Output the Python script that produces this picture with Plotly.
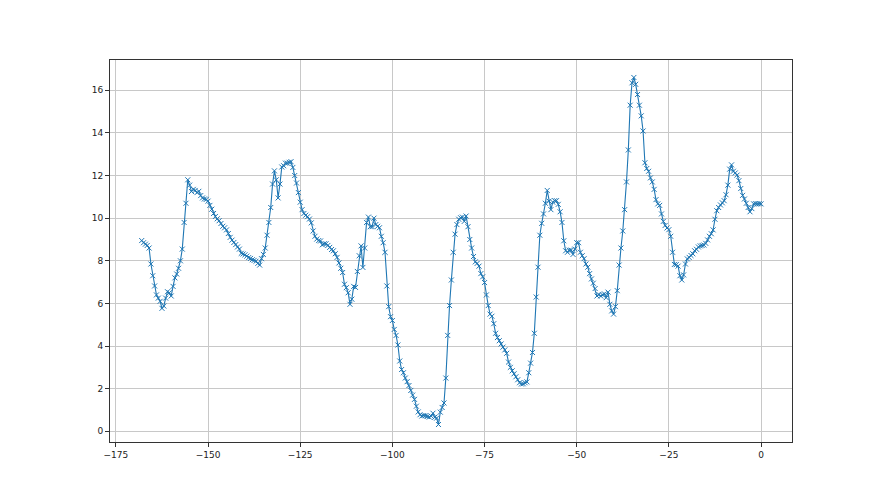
import numpy as np
import plotly.graph_objects as go

# profile values, one every 0.5 units from -168 to 0
x_start = -168.0
x_end = 0.0
y_values = [
    8.95, 8.85, 8.78, 8.72, 8.6, 7.85, 7.3, 6.82, 6.4, 6.25,        # -168.0
    6.1, 5.77, 5.88, 6.25, 6.55, 6.5, 6.35, 6.8, 7.2, 7.38,         # -163.0
    7.65, 8.0, 8.55, 9.8, 10.7, 11.8, 11.55, 11.25, 11.35, 11.3,    # -158.0
    11.2, 11.26, 11.06, 10.95, 10.9, 10.88, 10.8, 10.6, 10.42, 10.22,  # -153.0
    10.08, 9.97, 9.88, 9.75, 9.62, 9.55, 9.45, 9.28, 9.1, 8.97,     # -148.0
    8.86, 8.76, 8.65, 8.55, 8.35, 8.32, 8.28, 8.22, 8.15, 8.11,     # -143.0
    8.05, 8.02, 7.98, 7.88, 7.8, 8.1, 8.3, 8.6, 9.2, 9.8,           # -138.0
    10.5, 11.6, 12.22, 11.8, 10.95, 11.6, 12.4, 12.46, 12.58, 12.58,  # -133.0
    12.62, 12.65, 12.38, 12.0, 11.65, 11.2, 10.75, 10.4, 10.22, 10.14,  # -128.0
    10.07, 9.96, 9.78, 9.4, 9.15, 9.02, 8.95, 8.93, 8.75, 8.8,      # -123.0
    8.8, 8.72, 8.63, 8.53, 8.47, 8.33, 8.16, 7.9, 7.65, 7.45,       # -118.0
    6.9, 6.74, 6.5, 5.96, 6.2, 6.8, 6.75, 7.5, 8.24, 8.7,           # -113.0
    7.69, 8.6, 9.8, 10.05, 9.6, 9.6, 10.0, 9.7, 9.62, 9.55,         # -108.0
    9.15, 8.85, 8.4, 6.82, 5.85, 5.38, 5.2, 4.78, 4.5, 4.05,        # -103.0
    3.3, 2.9, 2.75, 2.5, 2.33, 2.15, 1.92, 1.7, 1.5, 1.18,          # -98.0
    0.91, 0.78, 0.72, 0.74, 0.73, 0.7, 0.67, 0.72, 0.85, 0.66,      # -93.0
    0.62, 0.32, 0.9, 1.12, 1.33, 2.5, 4.5, 5.9, 7.1, 8.4,           # -88.0
    9.25, 9.7, 9.95, 10.02, 10.05, 9.85, 10.1, 9.6, 9.0, 8.6,       # -83.0
    8.2, 7.95, 7.88, 7.75, 7.4, 7.25, 6.98, 6.4, 5.9, 5.5,          # -78.0
    5.4, 5.05, 4.6, 4.4, 4.25, 4.1, 3.95, 3.82, 3.66, 3.25,         # -73.0
    3.0, 2.84, 2.7, 2.56, 2.42, 2.28, 2.22, 2.23, 2.28, 2.32,       # -68.0
    2.75, 3.2, 3.7, 4.6, 6.3, 7.7, 9.2, 9.76, 10.2, 10.7,           # -63.0
    11.3, 10.8, 10.4, 10.75, 10.82, 10.82, 10.65, 10.3, 9.8, 8.94,  # -58.0
    8.47, 8.4, 8.5, 8.5, 8.3, 8.55, 8.85, 8.85, 8.4, 8.24,          # -53.0
    8.1, 7.85, 7.7, 7.4, 7.15, 6.95, 6.7, 6.35, 6.42, 6.35,         # -48.0
    6.4, 6.45, 6.27, 6.53, 5.96, 5.65, 5.5, 5.85, 6.6, 7.8,         # -43.0
    8.6, 9.4, 10.4, 11.7, 13.2, 15.3, 16.35, 16.6, 16.28, 15.8,     # -38.0
    15.3, 14.8, 14.09, 12.6, 12.33, 12.2, 11.89, 11.7, 11.35, 10.87,  # -33.0
    10.67, 10.6, 10.2, 9.85, 9.66, 9.54, 9.46, 9.15, 8.4, 7.83,     # -28.0
    7.82, 7.75, 7.3, 7.1, 7.34, 7.85, 8.09, 8.16, 8.25, 8.33,       # -23.0
    8.47, 8.54, 8.65, 8.7, 8.72, 8.74, 8.82, 8.98, 9.15, 9.27,      # -18.0
    9.45, 9.95, 10.35, 10.5, 10.62, 10.72, 10.82, 11.1, 11.55, 12.3,  # -13.0
    12.5, 12.2, 12.12, 12.02, 11.76, 11.39, 11.07, 10.9, 10.7, 10.5,  # -8.0
    10.3, 10.45, 10.67, 10.68, 10.67, 10.68, 10.67,                 # -3.0
]

x_ticks = [-175, -150, -125, -100, -75, -50, -25, 0]
y_ticks = [0, 2, 4, 6, 8, 10, 12, 14, 16]

x_values = np.linspace(x_start, x_end, len(y_values))

blue = "#1f77b4"
grid = "#c8c8c8"

fig = go.Figure(
    go.Scatter(
        x=x_values,
        y=y_values,
        mode="lines+markers",
        line={"color": blue, "width": 1.1},
        marker={
            "symbol": "x-thin",
            "size": 5,
            "line": {"color": blue, "width": 1},
        },
        showlegend=False,
    )
)

axis_common = dict(
    showline=True,
    linecolor="#333333",
    linewidth=1,
    mirror=True,
    showgrid=True,
    gridcolor=grid,
    gridwidth=0.8,
    zeroline=False,
    ticks="outside",
    ticklen=4,
    tickcolor="#333333",
    tickfont={"family": "DejaVu Sans", "size": 9, "color": "#222222"},
)

fig.update_xaxes(
    range=[-176.6, 8.4],
    tickvals=x_ticks,
    ticktext=[str(v).replace("-", "\u2212") for v in x_ticks],
    **axis_common,
)
fig.update_yaxes(
    range=[-0.5, 17.42],
    tickvals=y_ticks,
    ticktext=[str(v) for v in y_ticks],
    **axis_common,
)

# the page adds its own offset, so margins are trimmed to land the
# plot area where the reference has it
fig.update_layout(
    width=880,
    height=495,
    margin={"l": 102, "r": 96, "t": 52, "b": 61},
    paper_bgcolor="white",
    plot_bgcolor="white",
)

fig.write_html("out.html")
